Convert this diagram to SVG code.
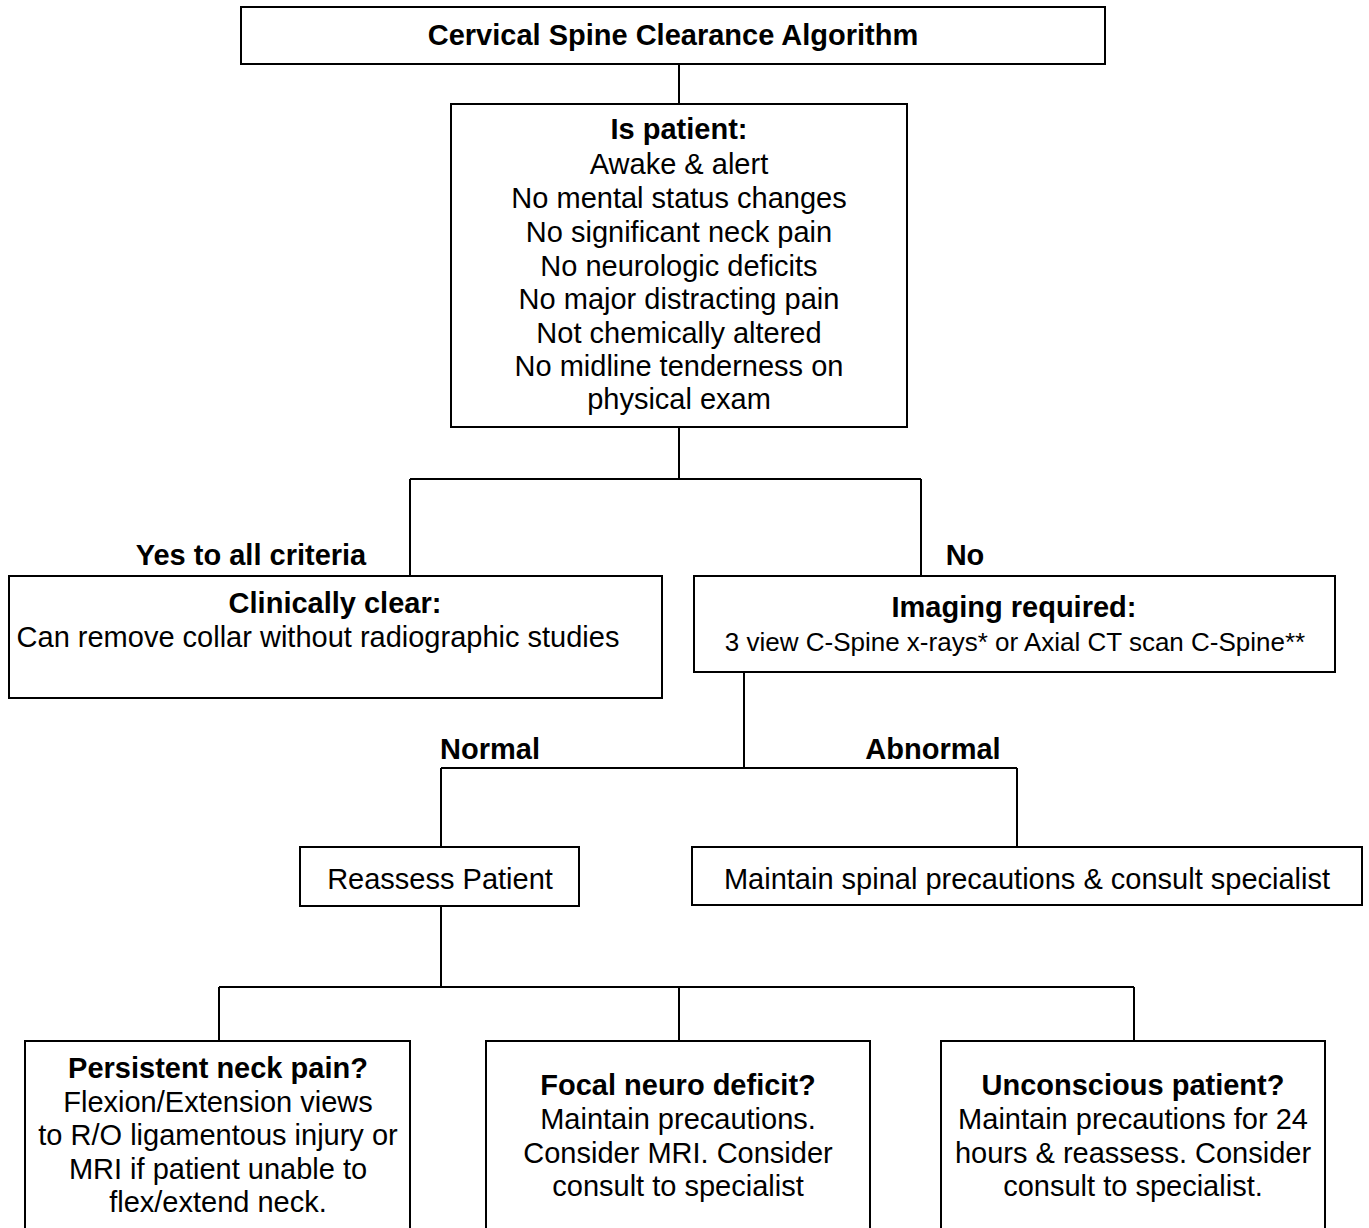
<svg xmlns="http://www.w3.org/2000/svg" width="1369" height="1228" viewBox="0 0 1369 1228">
<style>
.box{fill:#fff;stroke:#000;stroke-width:2}
.ln{fill:none;stroke:#000;stroke-width:2}
text{font-family:"Liberation Sans",Arial,sans-serif;font-size:29px;fill:#000;text-anchor:middle}
.b{font-weight:bold}
.s{font-size:26px}
</style>
<rect width="1369" height="1228" fill="#fff"/>
<g id="connectors">
<path class="ln" d="M679 64V104"/>
<path class="ln" d="M679 427V479M410 479H921M410 479V576M921 479V576"/>
<path class="ln" d="M744 672V768M441 768H1017M441 768V847M1017 768V847"/>
<path class="ln" d="M441 906V987M219 987H1134M219 987V1041M679 987V1041M1134 987V1041"/>
</g>
<g id="labels">
<text class="b" x="251" y="565">Yes to all criteria</text>
<text class="b" x="965" y="565">No</text>
<text class="b" x="490" y="759">Normal</text>
<text class="b" x="933" y="759">Abnormal</text>
</g>
<g id="title">
<rect class="box" x="241" y="7" width="864" height="57"/>
<text class="b" x="673" y="45">Cervical Spine Clearance Algorithm</text>
</g>
<g id="criteria">
<rect class="box" x="451" y="104" width="456" height="323"/>
<text class="b" x="679" y="139">Is patient:</text>
<text x="679" y="174">Awake &amp; alert</text>
<text x="679" y="208">No mental status changes</text>
<text x="679" y="242">No significant neck pain</text>
<text x="679" y="276">No neurologic deficits</text>
<text x="679" y="309">No major distracting pain</text>
<text x="679" y="343">Not chemically altered</text>
<text x="679" y="376">No midline tenderness on</text>
<text x="679" y="409">physical exam</text>
</g>
<g id="clinically-clear">
<rect class="box" x="9" y="576" width="653" height="122"/>
<text class="b" x="335" y="613">Clinically clear:</text>
<text x="318" y="647">Can remove collar without radiographic studies</text>
</g>
<g id="imaging">
<rect class="box" x="694" y="576" width="641" height="96"/>
<text class="b" x="1014" y="617">Imaging required:</text>
<text class="s" x="1015" y="651">3 view C-Spine x-rays* or Axial CT scan C-Spine**</text>
</g>
<g id="reassess">
<rect class="box" x="300" y="847" width="279" height="59"/>
<text x="440" y="889">Reassess Patient</text>
</g>
<g id="maintain">
<rect class="box" x="692" y="847" width="670" height="58"/>
<text x="1027" y="889">Maintain spinal precautions &amp; consult specialist</text>
</g>
<g id="persistent">
<rect class="box" x="25" y="1041" width="385" height="200"/>
<text class="b" x="218" y="1078">Persistent neck pain?</text>
<text x="218" y="1112">Flexion/Extension views</text>
<text x="218" y="1145">to R/O ligamentous injury or</text>
<text x="218" y="1179">MRI if patient unable to</text>
<text x="218" y="1212">flex/extend neck.</text>
</g>
<g id="focal">
<rect class="box" x="486" y="1041" width="384" height="200"/>
<text class="b" x="678" y="1095">Focal neuro deficit?</text>
<text x="678" y="1129">Maintain precautions.</text>
<text x="678" y="1163">Consider MRI. Consider</text>
<text x="678" y="1196">consult to specialist</text>
</g>
<g id="unconscious">
<rect class="box" x="941" y="1041" width="384" height="200"/>
<text class="b" x="1133" y="1095">Unconscious patient?</text>
<text x="1133" y="1129">Maintain precautions for 24</text>
<text x="1133" y="1163">hours &amp; reassess. Consider</text>
<text x="1133" y="1196">consult to specialist.</text>
</g>
</svg>
